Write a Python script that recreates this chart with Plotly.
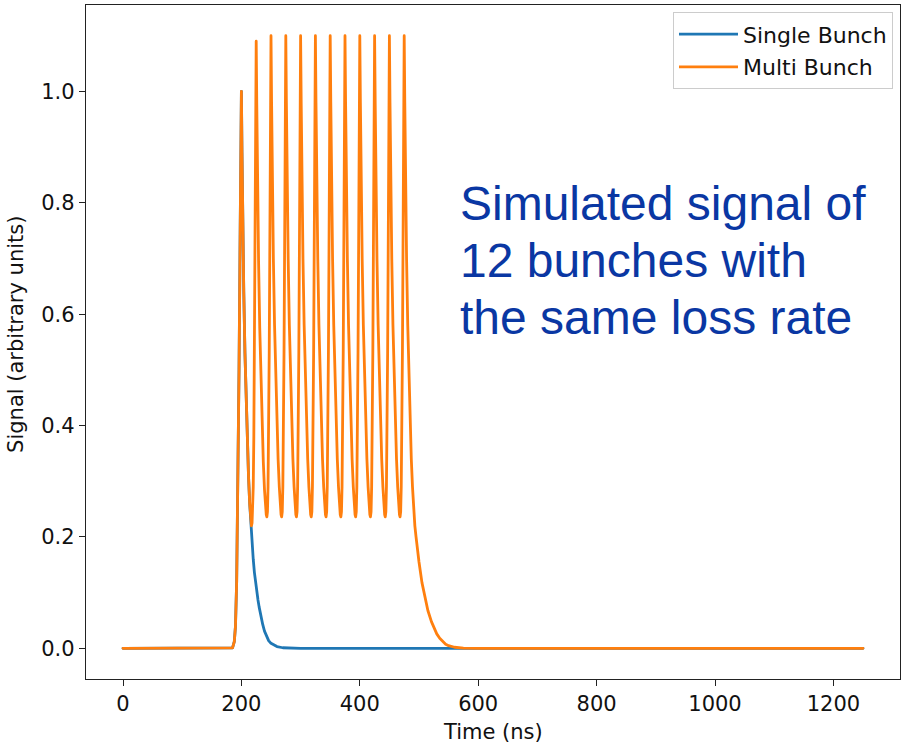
import plotly.graph_objects as go

# ---------------- data ----------------
single_time = [0, 180, 185, 188, 190, 192, 194, 196, 198, 199,
               200, 201, 202, 203, 204, 206, 208, 210, 212, 214,
               215, 216, 217, 218, 220, 222, 225, 228, 230, 233,
               236, 239, 242, 246, 250, 255, 260, 270, 285, 300, 1250]
single_signal = [0, 0, 0.001, 0.012, 0.04, 0.12, 0.28, 0.50, 0.76, 0.90,
                 1.0, 0.89, 0.79, 0.71, 0.64, 0.53, 0.44, 0.37, 0.31, 0.26,
                 0.24, 0.222, 0.205, 0.19, 0.16, 0.136, 0.108, 0.087, 0.074, 0.057,
                 0.043, 0.031, 0.022, 0.014, 0.009, 0.0055, 0.0032, 0.0011, 0.0003, 0, 0]

multi_time_rows = [
    [0, 180, 185, 188, 190, 192, 194, 196, 198, 199],
    [200, 201, 202, 203, 204, 206, 208, 210, 212, 214, 215, 216, 217, 218, 219, 220, 221, 222, 223, 224],
    [225, 226, 227, 228, 229, 231, 233, 235, 237, 239, 240, 241, 242, 243, 244, 245, 246, 247, 248, 249],
    [250, 251, 252, 253, 254, 256, 258, 260, 262, 264, 265, 266, 267, 268, 269, 270, 271, 272, 273, 274],
    [275, 276, 277, 278, 279, 281, 283, 285, 287, 289, 290, 291, 292, 293, 294, 295, 296, 297, 298, 299],
    [300, 301, 302, 303, 304, 306, 308, 310, 312, 314, 315, 316, 317, 318, 319, 320, 321, 322, 323, 324],
    [325, 326, 327, 328, 329, 331, 333, 335, 337, 339, 340, 341, 342, 343, 344, 345, 346, 347, 348, 349],
    [350, 351, 352, 353, 354, 356, 358, 360, 362, 364, 365, 366, 367, 368, 369, 370, 371, 372, 373, 374],
    [375, 376, 377, 378, 379, 381, 383, 385, 387, 389, 390, 391, 392, 393, 394, 395, 396, 397, 398, 399],
    [400, 401, 402, 403, 404, 406, 408, 410, 412, 414, 415, 416, 417, 418, 419, 420, 421, 422, 423, 424],
    [425, 426, 427, 428, 429, 431, 433, 435, 437, 439, 440, 441, 442, 443, 444, 445, 446, 447, 448, 449],
    [450, 451, 452, 453, 454, 456, 458, 460, 462, 464, 465, 466, 467, 468, 469, 470, 471, 472, 473, 474],
    [475, 476, 477, 478, 479, 481, 483, 485, 487, 489, 491, 493, 495, 497, 500, 505, 510, 515, 521, 525,
     530, 535, 540, 545, 550, 560, 575, 600, 1250],
]
multi_signal_rows = [
    [0, 0, 0.001, 0.012, 0.04, 0.12, 0.28, 0.50, 0.76, 0.90],
    [1.0, 0.89, 0.79, 0.71, 0.64, 0.53, 0.44, 0.37, 0.31, 0.26, 0.242, 0.227, 0.22, 0.225, 0.245, 0.29, 0.38, 0.52, 0.71, 0.91],
    [1.09, 0.975, 0.865, 0.775, 0.695, 0.575, 0.475, 0.395, 0.335, 0.285, 0.265, 0.25, 0.24, 0.236, 0.245, 0.29, 0.38, 0.53, 0.72, 0.92],
    [1.10, 0.98, 0.87, 0.78, 0.70, 0.58, 0.48, 0.40, 0.34, 0.29, 0.27, 0.252, 0.24, 0.236, 0.245, 0.29, 0.38, 0.53, 0.72, 0.92],
    [1.10, 0.98, 0.87, 0.78, 0.70, 0.58, 0.48, 0.40, 0.34, 0.29, 0.27, 0.252, 0.24, 0.236, 0.245, 0.29, 0.38, 0.53, 0.72, 0.92],
    [1.10, 0.98, 0.87, 0.78, 0.70, 0.58, 0.48, 0.40, 0.34, 0.29, 0.27, 0.252, 0.24, 0.236, 0.245, 0.29, 0.38, 0.53, 0.72, 0.92],
    [1.10, 0.98, 0.87, 0.78, 0.70, 0.58, 0.48, 0.40, 0.34, 0.29, 0.27, 0.252, 0.24, 0.236, 0.245, 0.29, 0.38, 0.53, 0.72, 0.92],
    [1.10, 0.98, 0.87, 0.78, 0.70, 0.58, 0.48, 0.40, 0.34, 0.29, 0.27, 0.252, 0.24, 0.236, 0.245, 0.29, 0.38, 0.53, 0.72, 0.92],
    [1.10, 0.98, 0.87, 0.78, 0.70, 0.58, 0.48, 0.40, 0.34, 0.29, 0.27, 0.252, 0.24, 0.236, 0.245, 0.29, 0.38, 0.53, 0.72, 0.92],
    [1.10, 0.98, 0.87, 0.78, 0.70, 0.58, 0.48, 0.40, 0.34, 0.29, 0.27, 0.252, 0.24, 0.236, 0.245, 0.29, 0.38, 0.53, 0.72, 0.92],
    [1.10, 0.98, 0.87, 0.78, 0.70, 0.58, 0.48, 0.40, 0.34, 0.29, 0.27, 0.252, 0.24, 0.236, 0.245, 0.29, 0.38, 0.53, 0.72, 0.92],
    [1.10, 0.98, 0.87, 0.78, 0.70, 0.58, 0.48, 0.40, 0.34, 0.29, 0.27, 0.252, 0.24, 0.236, 0.245, 0.29, 0.38, 0.53, 0.72, 0.92],
    [1.10, 0.98, 0.87, 0.78, 0.70, 0.58, 0.48, 0.40, 0.34, 0.29, 0.25, 0.22, 0.20, 0.18, 0.155, 0.118, 0.09, 0.068, 0.048, 0.037,
     0.026, 0.018, 0.012, 0.0075, 0.0048, 0.002, 0.0006, 0, 0],
]

x_ticks = [0, 200, 400, 600, 800, 1000, 1200]
y_ticks = [0.0, 0.2, 0.4, 0.6, 0.8, 1.0]
series_names = ["Single Bunch", "Multi Bunch"]
annotation_lines = ["Simulated signal of", "12 bunches with", "the same loss rate"]

multi_time = [t for row in multi_time_rows for t in row]
multi_signal = [v for row in multi_signal_rows for v in row]

# ---------------- figure ----------------
BLUE = "#1f77b4"
ORANGE = "#ff7f0e"
TICK_FONT = dict(family="DejaVu Sans", size=21, color="#111111")

fig = go.Figure()
fig.add_trace(go.Scatter(x=single_time, y=single_signal, mode="lines", name=series_names[0],
                         legendgroup="g1", line=dict(color=BLUE, width=2.8)))
fig.add_trace(go.Scatter(x=multi_time, y=multi_signal, mode="lines", name=series_names[1],
                         legendgroup="g2", line=dict(color=ORANGE, width=2.8)))

axis_common = dict(showline=True, mirror=True, linecolor="#222222", linewidth=1.4,
                   ticks="outside", ticklen=6, tickwidth=1.4, tickcolor="#222222",
                   showgrid=False, zeroline=False, tickfont=TICK_FONT)

fig.update_xaxes(range=[-62.5, 1312.5], tickvals=x_ticks, ticktext=[str(v) for v in x_ticks],
                 **axis_common)
fig.update_yaxes(range=[-0.055, 1.155], tickvals=y_ticks, ticktext=[f"{v:.1f}" for v in y_ticks],
                 **axis_common)

annotations = [
    dict(text="Time (ns)", xref="paper", yref="paper", x=0.5, y=-0.078, xanchor="center",
         yanchor="middle", showarrow=False, font=TICK_FONT),
    dict(text="Signal (arbitrary units)", xref="paper", yref="paper", x=-0.086, y=0.512,
         xanchor="center", yanchor="middle", textangle=-90, showarrow=False, font=TICK_FONT),
]
line_centers = [0.706, 0.6205, 0.536]
for txt, yc in zip(annotation_lines, line_centers):
    annotations.append(dict(text=txt, xref="paper", yref="paper", x=0.457, y=yc,
                            xanchor="left", yanchor="middle", showarrow=False,
                            font=dict(family="Liberation Sans", size=48, color="#0a37a3")))

fig.update_layout(
    width=905, height=745,
    margin=dict(l=86, r=5, t=5, b=66),
    paper_bgcolor="white", plot_bgcolor="white",
    showlegend=True,
    legend=dict(x=0.9914, y=0.989, xanchor="right", yanchor="top",
                traceorder="grouped", tracegroupgap=1,
                bgcolor="rgba(255,255,255,0.85)", bordercolor="#cccccc", borderwidth=1,
                font=dict(family="DejaVu Sans", size=22, color="#111111"),
                itemwidth=59),
    annotations=annotations,
)

post = ("document.body.style.margin='0';document.body.style.overflow='hidden';"
        "document.querySelectorAll('.scatterlayer path.js-line').forEach(function(p){"
        "p.style.strokeLinejoin='round';p.style.strokeLinecap='round';});")
fig.write_html("out.html", config={"displayModeBar": False}, post_script=post)
